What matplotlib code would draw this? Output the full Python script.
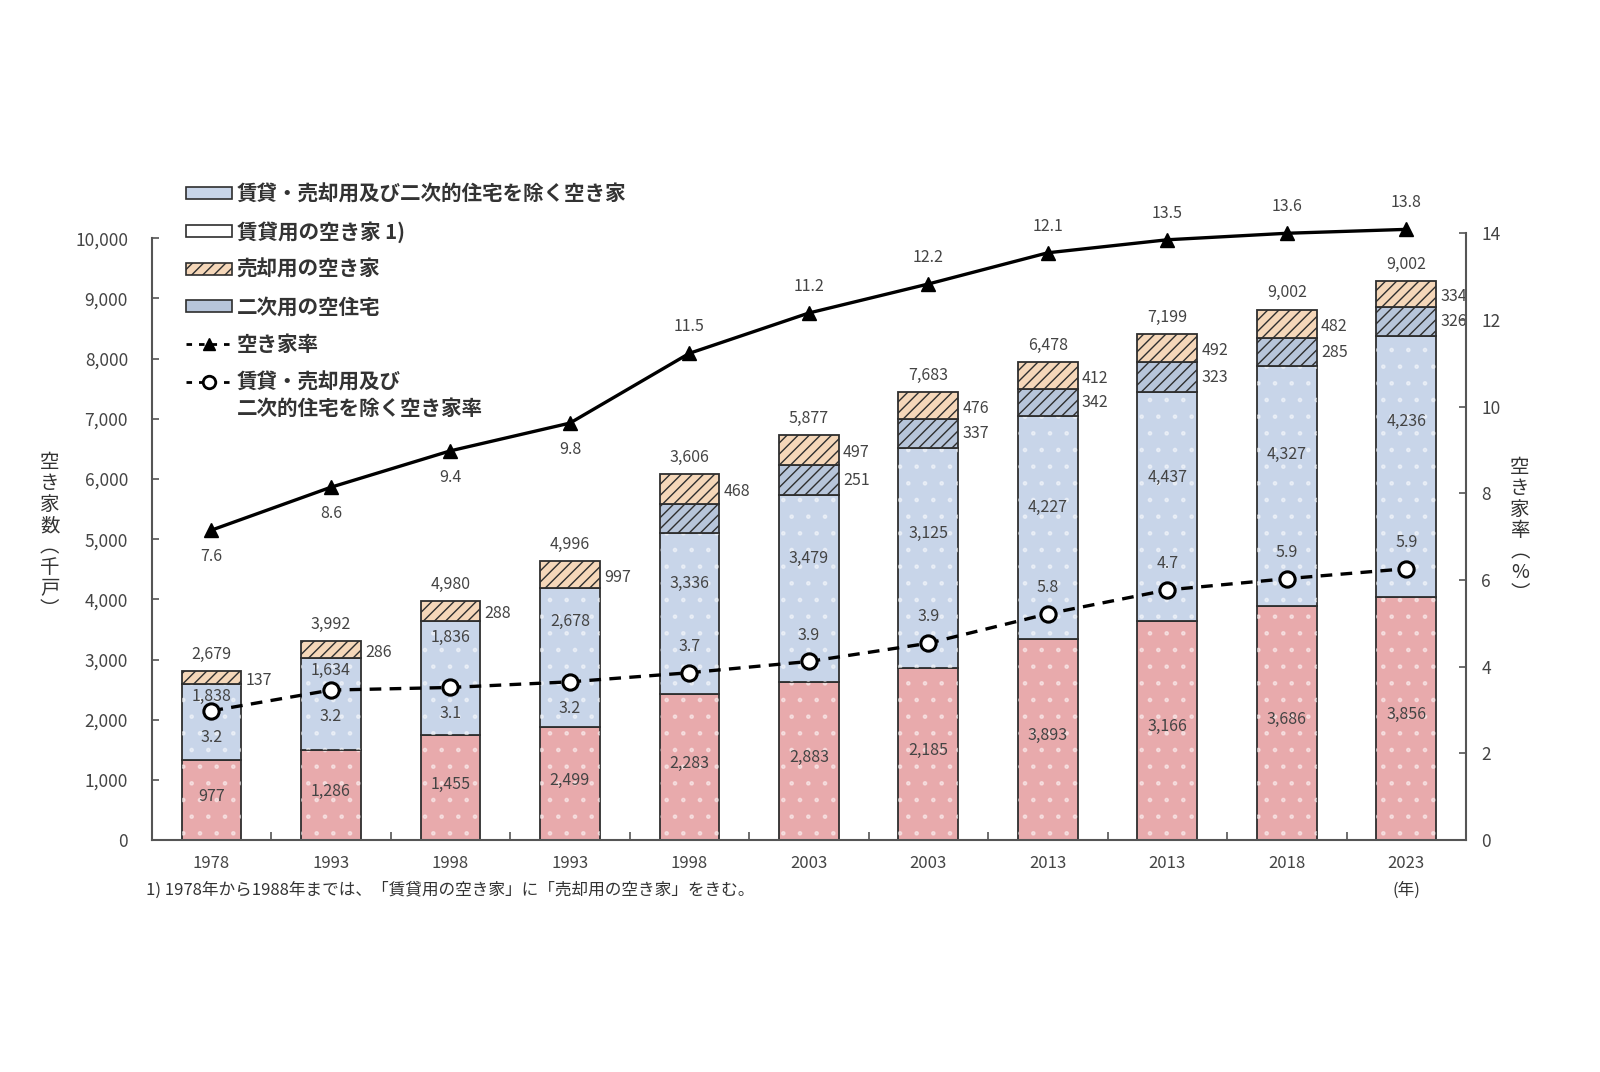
import numpy as np
import matplotlib
matplotlib.use("Agg")
import matplotlib.pyplot as plt
from matplotlib.patches import Patch
from matplotlib.lines import Line2D
from matplotlib.ticker import FuncFormatter

plt.rcParams['font.family'] = ['Noto Sans CJK JP', 'DejaVu Sans']

# --- data ---
years = ['1978', '1993', '1998', '1993', '1998', '2003', '2003', '2013', '2013', '2018', '2023']
rent = [1334, 1489, 1738, 1876, 2420, 2625, 2864, 3342, 3641, 3896, 4040]     # pink
other = [1253, 1542, 1907, 2319, 2690, 3105, 3656, 3702, 3801, 3985, 4340]    # light blue
second = [0, 0, 0, 0, 482, 499, 469, 446, 495, 457, 480]                      # blue hatch
sale = [221, 276, 325, 437, 483, 499, 463, 459, 478, 478, 435]                # orange hatch
vac_rate = [7.15, 8.14, 8.98, 9.62, 11.23, 12.16, 12.83, 13.55, 13.85, 14.0, 14.09]
oth_rate = [2.98, 3.46, 3.52, 3.65, 3.86, 4.12, 4.54, 5.22, 5.77, 6.03, 6.26]

total_lab = ['2,679', '3,992', '4,980', '4,996', '3,606', '5,877', '7,683', '6,478', '7,199', '9,002', '9,002']
sale_lab = ['137', '286', '288', '997', '468', '497', '476', '412', '492', '482', '334']
second_lab = ['', '', '', '', '', '251', '337', '342', '323', '285', '326']
other_lab = ['1,838', '1,634', '1,836', '2,678', '3,336', '3,479', '3,125', '4,227', '4,437', '4,327', '4,236']
rent_lab = ['977', '1,286', '1,455', '2,499', '2,283', '2,883', '2,185', '3,893', '3,166', '3,686', '3,856']
vac_lab = ['7.6', '8.6', '9.4', '9.8', '11.5', '11.2', '12.2', '12.1', '13.5', '13.6', '13.8']
oth_lab = ['3.2', '3.2', '3.1', '3.2', '3.7', '3.9', '3.9', '5.8', '4.7', '5.9', '5.9']

# label heights inside the light blue part (layout only)
other_lab_y = [2387, 2820, 3373, 3634, 4266, 4682, 5103, 5519, 6030, 6412, 6951]

legend_labels = ['賃貸・売却用及び二次的住宅を除く空き家', '賃貸用の空き家 1)', '売却用の空き家',
                 '二次用の空住宅', '空き家率', '賃貸・売却用及び']
legend_extra = '二次的住宅を除く空き家率'

PINK = '#e8aaac'
LBLUE = '#c8d5e9'
BHATCH = '#b7c5da'
ORANGE = '#f5d7b9'
EDGE = '#2e2e2e'
TXT = '#444444'

x = np.arange(len(years))
rent = np.array(rent); other = np.array(other)
second = np.array(second); sale = np.array(sale)
w = 0.5

fig = plt.figure(figsize=(16, 10.72), dpi=100)
ax = fig.add_axes([0.0948, 0.2164, 0.8215, 0.5613])
ax2 = fig.add_axes([0.0948, 0.2164, 0.8215, 0.566], sharex=ax)

# bars
ax.bar(x, rent, w, color=PINK, edgecolor=EDGE, lw=1.3, zorder=2)
ax.bar(x, rent, w, fill=False, edgecolor='white', hatch='.', lw=0, alpha=0.45, zorder=2)
ax.bar(x, other, w, bottom=rent, color=LBLUE, edgecolor=EDGE, lw=1.3, zorder=2)
ax.bar(x, other, w, bottom=rent, fill=False, edgecolor='white', hatch='.', lw=0, alpha=0.45, zorder=2)
b2 = rent + other
has2 = second > 0
ax.bar(x[has2], second[has2], w, bottom=b2[has2], color=BHATCH, edgecolor=EDGE,
       hatch='///', lw=1.3, zorder=2)
b3 = b2 + second
ax.bar(x, sale, w, bottom=b3, color=ORANGE, edgecolor=EDGE, hatch='///', lw=1.3, zorder=2)
top = b3 + sale

fs_num = 11.5
for i in range(len(x)):
    ax.annotate(total_lab[i], (x[i], top[i]), xytext=(0, 12), textcoords='offset points',
                ha='center', va='center', fontsize=fs_num, color=TXT)
    ax.annotate(sale_lab[i], (x[i] + w / 2, b3[i] + sale[i] / 2), xytext=(3, -2),
                textcoords='offset points', ha='left', va='center', fontsize=fs_num, color=TXT)
    if second_lab[i]:
        ax.annotate(second_lab[i], (x[i] + w / 2, b2[i] + second[i] / 2), xytext=(3, 0),
                    textcoords='offset points', ha='left', va='center', fontsize=fs_num, color=TXT)
    ax.text(x[i], other_lab_y[i], other_lab[i], ha='center', va='center', fontsize=fs_num, color=TXT)
    ax.text(x[i], rent[i] / 2 + 60, rent_lab[i], ha='center', va='center', fontsize=fs_num, color=TXT)

ax.set_xlim(-0.5, 10.5)
ax.set_ylim(0, 10000)
ax.set_yticks(range(0, 10001, 1000))
ax.yaxis.set_major_formatter(FuncFormatter(lambda v, p: f'{int(v):,}'))
ax.set_xticks(x)
ax.set_xticklabels(years)
ax.set_xticks(np.arange(0.5, 10, 1), minor=True)
ax.tick_params(axis='x', which='major', length=0, pad=11, labelsize=12, labelcolor=TXT)
ax.tick_params(axis='x', which='minor', direction='in', length=6, width=1.2, color='#555')
ax.tick_params(axis='y', direction='in', length=5, width=1.2, color='#555', pad=17,
               labelsize=12.5, labelcolor=TXT)
for s in ['top', 'right']:
    ax.spines[s].set_visible(False)
for s in ['left', 'bottom']:
    ax.spines[s].set_color('#555')
    ax.spines[s].set_linewidth(1.5)

# rate lines on right axis
ax2.patch.set_visible(False)
for s in ['top', 'left', 'bottom']:
    ax2.spines[s].set_visible(False)
ax2.spines['right'].set_color('#555')
ax2.spines['right'].set_linewidth(1.5)
ax2.xaxis.set_visible(False)
ax2.yaxis.tick_right()
ax2.set_ylim(0, 14)
ax2.set_yticks(range(0, 15, 2))
ax2.tick_params(axis='y', direction='in', length=5, width=1.2, color='#555', pad=11,
                labelsize=12.5, labelcolor=TXT)

ax2.plot(x, vac_rate, color='black', lw=2.4, marker='^', ms=10, clip_on=False, zorder=3)
ax2.plot(x, oth_rate, color='black', lw=2.4, ls=(0, (3.5, 2.5)), marker='o', ms=11,
         mfc='white', mec='black', mew=2.2, clip_on=False, zorder=3)
for i in range(len(x)):
    dy = -19 if i < 4 else 19
    ax2.annotate(vac_lab[i], (x[i], vac_rate[i]), xytext=(0, dy), textcoords='offset points',
                 ha='center', va='center', fontsize=fs_num, color=TXT, annotation_clip=False)
    ax2.annotate(oth_lab[i], (x[i], oth_rate[i]), xytext=(0, dy), textcoords='offset points',
                 ha='center', va='center', fontsize=fs_num, color=TXT)

# legend
dash = (0, (2, 2.5))
handles = [
    Patch(facecolor=LBLUE, edgecolor=EDGE, lw=1.2),
    Patch(facecolor='white', edgecolor=EDGE, lw=1.2),
    Patch(facecolor=ORANGE, edgecolor=EDGE, hatch='///', lw=1.2),
    Patch(facecolor=BHATCH, edgecolor=EDGE, lw=1.2),
    Line2D([], [], color='black', ls=dash, lw=2, marker='^', ms=9),
    Line2D([], [], color='black', ls=dash, lw=2, marker='o', ms=9, mfc='white', mew=2),
]
leg = fig.legend(handles, legend_labels, loc='upper left', bbox_to_anchor=(0.1165, 0.829),
                 frameon=False, prop={'size': 14.8, 'weight': 'bold'}, labelcolor='#333',
                 handlelength=2.2, handleheight=0.5, handletextpad=0.25, labelspacing=0.8,
                 borderpad=0, borderaxespad=0)

# second line of the last legend entry, placed under its first line
fig.canvas.draw()
last = leg.get_texts()[-1]
bb = last.get_window_extent().transformed(fig.transFigure.inverted())
fig.text(bb.x0, bb.y0 - 0.005, legend_extra, ha='left', va='top',
         fontsize=14.8, weight='bold', color='#333')

# axis titles (stacked vertically)
fig.text(0.031, 0.500, '\n'.join('空き家数︵千戸︶'), ha='center', va='center',
         fontsize=14, color='#333', linespacing=1.0)
fig.text(0.95, 0.505, '\n'.join('空き家率︵%︶'), ha='center', va='center',
         fontsize=14, color='#333', linespacing=1.0)

# footnote
fig.text(0.091, 0.1695, '1) 1978年から1988年までは、「賃貸用の空き家」に「売却用の空き家」をきむ。',
         ha='left', va='center', fontsize=12, color='#333')
fig.text(0.879, 0.1695, '(年)', ha='center', va='center', fontsize=12, color='#333')

fig.savefig('out.png', dpi=100, facecolor='white')
